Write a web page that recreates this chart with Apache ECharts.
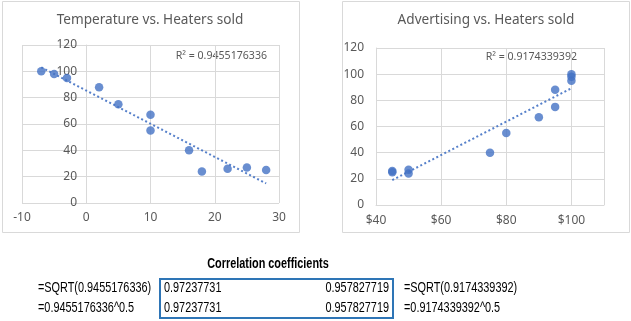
<!DOCTYPE html>
<html>
<head>
<meta charset="utf-8">
<script src="https://cdn.jsdelivr.net/npm/echarts@6/dist/echarts.min.js"></script>
<style>
html,body{margin:0;padding:0;background:#fff;}
#c{width:631px;height:321px;}
</style>
</head>
<body>
<div id="c"></div>
<script>
const temperature = [-7, -5, -3, 2, 5, 10, 10, 16, 18, 22, 25, 28];
const heatersSold = [100, 98, 95, 88, 75, 67, 55, 40, 24, 26, 27, 25];
const advertising = [100, 100, 100, 95, 95, 90, 80, 75, 50, 45, 50, 45];
const leftTitle = 'Temperature vs. Heaters sold';
const rightTitle = 'Advertising vs. Heaters sold';
const leftR2 = 'R² = 0.9455176336';
const rightR2 = 'R² = 0.9174339392';
const tableTitle = 'Correlation coefficients';
const formulasLeft = ['=SQRT(0.9455176336)', '=0.9455176336^0.5'];
const valuesLeft = ['0.97237731', '0.97237731'];
const valuesRight = ['0.957827719', '0.957827719'];
const formulasRight = ['=SQRT(0.9174339392)', '=0.9174339392^0.5'];

function fit(xs, ys) {
  const n = xs.length;
  let sx = 0, sy = 0, sxx = 0, sxy = 0;
  for (let i = 0; i < n; i++) { sx += xs[i]; sy += ys[i]; sxx += xs[i]*xs[i]; sxy += xs[i]*ys[i]; }
  const b = (n*sxy - sx*sy) / (n*sxx - sx*sx);
  const a = (sy - b*sx) / n;
  const lo = Math.min.apply(null, xs), hi = Math.max.apply(null, xs);
  return [[lo, a + b*lo], [hi, a + b*hi]];
}

const FONT = '"Noto Sans", "Open Sans", sans-serif';
const TFONT = '"Liberation Sans", sans-serif';
const blue = '#4472C4';
const grey = '#595959';
const gridCol = '#d9d9d9';
const SX = 0.75;

const leftPts = temperature.map((t, i) => [t, heatersSold[i]]);
const rightPts = advertising.map((a, i) => [a, heatersSold[i]]);

const chart = echarts.init(document.getElementById('c'), null, {renderer: 'canvas'});

const axisCommon = {
  axisLine: {lineStyle: {color: gridCol}},
  axisTick: {show: false},
  splitLine: {show: true, lineStyle: {color: gridCol}},
  axisLabel: {color: grey, fontFamily: FONT, fontSize: 12}
};

const textEl = (x, y, s, opts, scale) => ({
  type: 'text', x: x, y: y, scaleX: scale || SX,
  style: Object.assign({text: s, fill: '#000', font: '14.5px ' + TFONT, textVerticalAlign: 'middle'}, opts || {})
});

chart.setOption({
  animation: false,
  grid: [
    {left: 22, top: 45, width: 257, height: 158},
    {left: 376, top: 48, width: 228, height: 157}
  ],
  xAxis: [
    Object.assign({}, axisCommon, {type: 'value', gridIndex: 0, min: -10, max: 30, interval: 10,
      axisLine: {show: false}, axisLabel: Object.assign({}, axisCommon.axisLabel, {margin: 9})}),
    Object.assign({}, axisCommon, {type: 'value', gridIndex: 1, min: 40, max: 110, interval: 20,
      axisLine: {show: true, onZero: false, lineStyle: {color: gridCol}},
      axisLabel: Object.assign({}, axisCommon.axisLabel, {margin: 10, showMaxLabel: false,
        formatter: v => v > 105 ? '' : '$' + v})})
  ],
  yAxis: [
    Object.assign({}, axisCommon, {type: 'value', gridIndex: 0, min: 0, max: 120, interval: 20, offset: -64,
      axisLine: {show: true, onZero: false, lineStyle: {color: gridCol}},
      axisLabel: Object.assign({}, axisCommon.axisLabel, {margin: 9})}),
    Object.assign({}, axisCommon, {type: 'value', gridIndex: 1, min: 0, max: 120, interval: 20,
      axisLine: {show: true, onZero: false, lineStyle: {color: gridCol}},
      axisLabel: Object.assign({}, axisCommon.axisLabel, {margin: 12})})
  ],
  series: [
    {type: 'scatter', xAxisIndex: 0, yAxisIndex: 0, data: leftPts, symbolSize: 8.5,
      itemStyle: {color: blue}, z: 3},
    {type: 'line', xAxisIndex: 0, yAxisIndex: 0, data: fit(temperature, heatersSold), symbol: 'none',
      lineStyle: {color: blue, width: 2, type: [2, 2.5], opacity: 0.9}, z: 2},
    {type: 'scatter', xAxisIndex: 1, yAxisIndex: 1, data: rightPts, symbolSize: 8.5,
      itemStyle: {color: blue}, z: 3},
    {type: 'line', xAxisIndex: 1, yAxisIndex: 1, data: fit(advertising, heatersSold), symbol: 'none',
      lineStyle: {color: blue, width: 2, type: [2, 2.5], opacity: 0.9}, z: 2}
  ],
  graphic: [
    {type: 'rect', shape: {x: 2.5, y: 1.5, width: 297, height: 231}, style: {fill: 'none', stroke: gridCol, lineWidth: 1}, z: -1},
    {type: 'rect', shape: {x: 342.5, y: 1.5, width: 287, height: 231}, style: {fill: 'none', stroke: gridCol, lineWidth: 1}, z: -1},
    textEl(150, 20, leftTitle, {fill: grey, font: '13.6px ' + FONT, textAlign: 'center'}, 1),
    textEl(486, 20, rightTitle, {fill: grey, font: '13.6px ' + FONT, textAlign: 'center'}, 1),
    textEl(267, 56, leftR2, {fill: grey, font: '10.6px ' + FONT, textAlign: 'right'}, 1),
    textEl(577, 57, rightR2, {fill: grey, font: '10.6px ' + FONT, textAlign: 'right'}, 1),
    textEl(268, 264, tableTitle, {font: 'bold 14.5px ' + TFONT, textAlign: 'center'}),
    textEl(38, 288, formulasLeft[0]),
    textEl(38, 308, formulasLeft[1]),
    textEl(164, 288, valuesLeft[0]),
    textEl(164, 308, valuesLeft[1]),
    textEl(389, 288, valuesRight[0], {textAlign: 'right'}),
    textEl(389, 308, valuesRight[1], {textAlign: 'right'}),
    textEl(404, 288, formulasRight[0]),
    textEl(404, 308, formulasRight[1]),
    {type: 'rect', shape: {x: 160, y: 279, width: 233, height: 39}, style: {fill: 'none', stroke: '#2E75B6', lineWidth: 2}}
  ]
});
</script>
</body>
</html>
